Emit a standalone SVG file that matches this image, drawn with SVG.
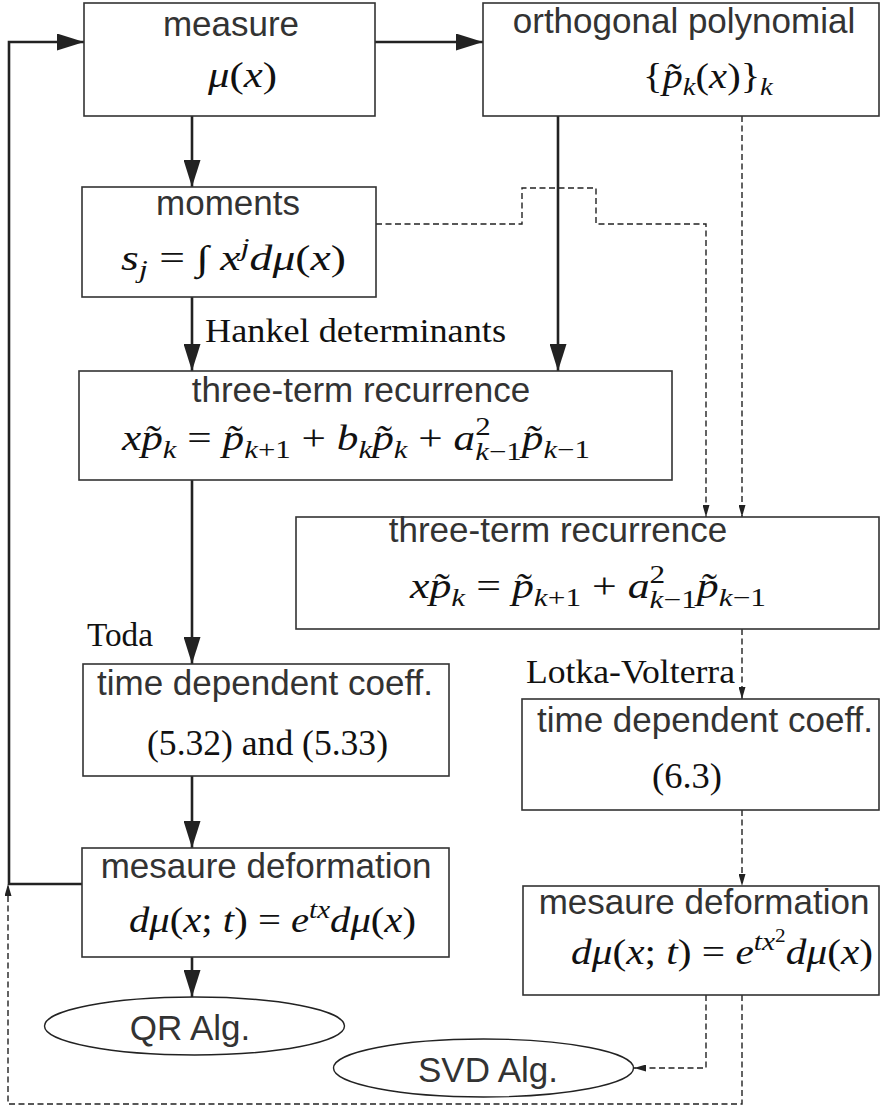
<svg xmlns="http://www.w3.org/2000/svg" width="880" height="1107" viewBox="0 0 880 1107">
<style>
.box{fill:#fff;stroke:#333;stroke-width:1.6}
.ell{fill:#fff;stroke:#222;stroke-width:1.4}
.t{font-family:"Liberation Sans",Arial,sans-serif;font-size:35px;fill:#333;text-anchor:middle}
.m{font-family:"Liberation Serif","Times New Roman",serif;font-size:35px;fill:#111}
.i{font-style:italic}
.s{font-size:25px}
.ss{font-size:18px}
.l{font-family:"Liberation Serif","Times New Roman",serif;font-size:33px;fill:#111}
.solid{fill:none;stroke:#222;stroke-width:2.6}
.dash{fill:none;stroke:#222;stroke-width:1.4;stroke-dasharray:6,3.5}
</style>
<defs>
<marker id="big" viewBox="0 0 27 17" refX="27" refY="8.5" markerWidth="27" markerHeight="17" markerUnits="userSpaceOnUse" orient="auto"><path d="M0,0 L27,8.5 L0,17 z" fill="#222"/></marker>
<marker id="small" viewBox="0 0 12 7" refX="12" refY="3.5" markerWidth="12" markerHeight="7" markerUnits="userSpaceOnUse" orient="auto"><path d="M0,0 L12,3.5 L0,7 z" fill="#222"/></marker>
</defs>
<rect width="880" height="1107" fill="#fff"/>

<g id="connectors">
<path class="solid" d="M82,884 H9 V42 H84" marker-end="url(#big)"/>
<path class="solid" d="M375,42 H483" marker-end="url(#big)"/>
<path class="solid" d="M192,116 V187" marker-end="url(#big)"/>
<path class="solid" d="M192,297 V371" marker-end="url(#big)"/>
<path class="solid" d="M558,116 V371" marker-end="url(#big)"/>
<path class="solid" d="M192,480 V664" marker-end="url(#big)"/>
<path class="solid" d="M192,776 V848" marker-end="url(#big)"/>
<path class="solid" d="M192,957 V997" marker-end="url(#big)"/>
<path class="dash" d="M376,224 H522 V188 H596 V224 H706 V517" marker-end="url(#small)"/>
<path class="dash" d="M742,116 V517" marker-end="url(#small)"/>
<path class="dash" d="M742,629 V699" marker-end="url(#small)"/>
<path class="dash" d="M742,810 V886" marker-end="url(#small)"/>
<path class="dash" d="M706,995 V1068 H634" marker-end="url(#small)"/>
<path class="dash" d="M742,995 V1104 H8 V884" marker-end="url(#small)"/>
</g>

<g id="measure">
<rect class="box" x="84" y="3" width="291" height="113"/>
<text class="t" x="231" y="36">measure</text>
<text class="m" x="208" y="87" textLength="69" lengthAdjust="spacingAndGlyphs"><tspan class="i">μ</tspan>(<tspan class="i">x</tspan>)</text>
</g>

<g id="orthogonal">
<rect class="box" x="483" y="3" width="396" height="113"/>
<text class="t" x="684" y="33">orthogonal polynomial</text>
<text class="m" x="643" y="88" textLength="130" lengthAdjust="spacingAndGlyphs">{<tspan class="i">p&#x303;</tspan><tspan class="i s" dy="7">k</tspan><tspan dy="-7">(</tspan><tspan class="i">x</tspan>)}<tspan class="i s" dy="7">k</tspan></text>
</g>

<g id="moments">
<rect class="box" x="82" y="187" width="294" height="110"/>
<text class="t" x="228" y="215">moments</text>
<text class="m" x="121" y="270" textLength="225" lengthAdjust="spacingAndGlyphs"><tspan class="i">s</tspan><tspan class="i s" dy="8">j</tspan><tspan dy="-8"> = ∫ </tspan><tspan class="i">x</tspan><tspan class="i s" dy="-14">j</tspan><tspan class="i" dy="14">dμ</tspan>(<tspan class="i">x</tspan>)</text>
</g>

<text id="hankel" class="l" x="205" y="342" textLength="301" lengthAdjust="spacingAndGlyphs">Hankel determinants</text>

<g id="recurrence1">
<rect class="box" x="79" y="371" width="593" height="109"/>
<text class="t" x="361" y="402">three-term recurrence</text>
<text class="m" x="122" y="450" textLength="468" lengthAdjust="spacingAndGlyphs"><tspan class="i">xp&#x303;</tspan><tspan class="i s" dy="8">k</tspan><tspan dy="-8"> = </tspan><tspan class="i">p&#x303;</tspan><tspan class="s" dy="8"><tspan class="i">k</tspan>+1</tspan><tspan dy="-8"> + </tspan><tspan class="i">b</tspan><tspan class="i s" dy="8">k</tspan><tspan class="i" dy="-8">p&#x303;</tspan><tspan class="i s" dy="8">k</tspan><tspan dy="-8"> + </tspan><tspan class="i">a</tspan><tspan class="s" dy="-15">2</tspan><tspan class="s" dx="-12.5" dy="25"><tspan class="i">k</tspan>−1</tspan><tspan class="i" dy="-10">p&#x303;</tspan><tspan class="s" dy="8"><tspan class="i">k</tspan>−1</tspan></text>
</g>

<g id="recurrence2">
<rect class="box" x="296" y="517" width="583" height="112"/>
<text class="t" x="558" y="542">three-term recurrence</text>
<text class="m" x="410" y="598" textLength="356" lengthAdjust="spacingAndGlyphs"><tspan class="i">xp&#x303;</tspan><tspan class="i s" dy="8">k</tspan><tspan dy="-8"> = </tspan><tspan class="i">p&#x303;</tspan><tspan class="s" dy="8"><tspan class="i">k</tspan>+1</tspan><tspan dy="-8"> + </tspan><tspan class="i">a</tspan><tspan class="s" dy="-15">2</tspan><tspan class="s" dx="-12.5" dy="25"><tspan class="i">k</tspan>−1</tspan><tspan class="i" dy="-10">p&#x303;</tspan><tspan class="s" dy="8"><tspan class="i">k</tspan>−1</tspan></text>
</g>

<text id="toda" class="l" x="87" y="646" textLength="66" lengthAdjust="spacingAndGlyphs">Toda</text>
<text id="lotka" class="l" x="526" y="683" textLength="209" lengthAdjust="spacingAndGlyphs">Lotka-Volterra</text>

<g id="timecoeff1">
<rect class="box" x="83" y="664" width="366" height="112"/>
<text class="t" x="265" y="695">time dependent coeff.</text>
<text class="m" x="147" y="755" textLength="241" lengthAdjust="spacingAndGlyphs">(5.32) and (5.33)</text>
</g>

<g id="timecoeff2">
<rect class="box" x="522" y="699" width="357" height="111"/>
<text class="t" x="705" y="732">time dependent coeff.</text>
<text class="m" x="652" y="788" textLength="70" lengthAdjust="spacingAndGlyphs">(6.3)</text>
</g>

<g id="deformation1">
<rect class="box" x="82" y="848" width="367" height="109"/>
<text class="t" x="266" y="878">mesaure deformation</text>
<text class="m" x="129" y="932" textLength="287" lengthAdjust="spacingAndGlyphs"><tspan class="i">dμ</tspan>(<tspan class="i">x</tspan>; <tspan class="i">t</tspan>) = <tspan class="i">e</tspan><tspan class="i s" dy="-14">tx</tspan><tspan class="i" dy="14">dμ</tspan>(<tspan class="i">x</tspan>)</text>
</g>

<g id="deformation2">
<rect class="box" x="523" y="886" width="356" height="109"/>
<text class="t" x="704" y="914">mesaure deformation</text>
<text class="m" x="571" y="964" textLength="302" lengthAdjust="spacingAndGlyphs"><tspan class="i">dμ</tspan>(<tspan class="i">x</tspan>; <tspan class="i">t</tspan>) = <tspan class="i">e</tspan><tspan class="i s" dy="-14">tx</tspan><tspan class="ss" dy="-8">2</tspan><tspan class="i" dy="22">dμ</tspan>(<tspan class="i">x</tspan>)</text>
</g>

<g id="qr">
<ellipse class="ell" cx="194.5" cy="1026" rx="150" ry="29"/>
<text class="t" x="190" y="1040">QR Alg.</text>
</g>

<g id="svd">
<ellipse class="ell" cx="483.5" cy="1068" rx="150" ry="29"/>
<text class="t" x="488" y="1082">SVD Alg.</text>
</g>
</svg>
